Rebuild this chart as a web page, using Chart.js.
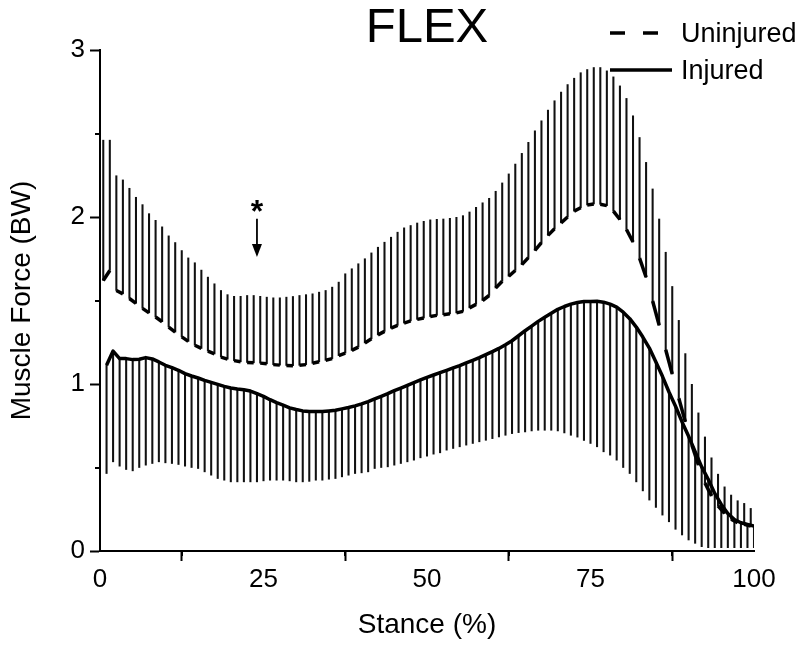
<!DOCTYPE html>
<html>
<head>
<meta charset="utf-8">
<title>FLEX</title>
<script src="https://cdn.jsdelivr.net/npm/chart.js@4.4.1/dist/chart.umd.min.js"></script>
<style>
    html, body { margin: 0; padding: 0; background: #fff; }
    #wrap { width: 800px; height: 650px; }
</style>
</head>
<body>
<div id="wrap"><canvas id="flexChart" width="800" height="650"></canvas></div>
<script>
// stance positions (%) of the two groups, uninjured is sampled half a percent earlier
const stanceUninjured = [
    0.5, 1.5, 2.5, 3.5, 4.5, 5.5, 6.5, 7.5, 8.5, 9.5,
    10.5, 11.5, 12.5, 13.5, 14.5, 15.5, 16.5, 17.5, 18.5, 19.5,
    20.5, 21.5, 22.5, 23.5, 24.5, 25.5, 26.5, 27.5, 28.5, 29.5,
    30.5, 31.5, 32.5, 33.5, 34.5, 35.5, 36.5, 37.5, 38.5, 39.5,
    40.5, 41.5, 42.5, 43.5, 44.5, 45.5, 46.5, 47.5, 48.5, 49.5,
    50.5, 51.5, 52.5, 53.5, 54.5, 55.5, 56.5, 57.5, 58.5, 59.5,
    60.5, 61.5, 62.5, 63.5, 64.5, 65.5, 66.5, 67.5, 68.5, 69.5,
    70.5, 71.5, 72.5, 73.5, 74.5, 75.5, 76.5, 77.5, 78.5, 79.5,
    80.5, 81.5, 82.5, 83.5, 84.5, 85.5, 86.5, 87.5, 88.5, 89.5,
    90.5, 91.5, 92.5, 93.5, 94.5, 95.5, 96.5, 97.5, 98.5, 99.5
];
const stanceInjured = [
    1, 2, 3, 4, 5, 6, 7, 8, 9, 10,
    11, 12, 13, 14, 15, 16, 17, 18, 19, 20,
    21, 22, 23, 24, 25, 26, 27, 28, 29, 30,
    31, 32, 33, 34, 35, 36, 37, 38, 39, 40,
    41, 42, 43, 44, 45, 46, 47, 48, 49, 50,
    51, 52, 53, 54, 55, 56, 57, 58, 59, 60,
    61, 62, 63, 64, 65, 66, 67, 68, 69, 70,
    71, 72, 73, 74, 75, 76, 77, 78, 79, 80,
    81, 82, 83, 84, 85, 86, 87, 88, 89, 90,
    91, 92, 93, 94, 95, 96, 97, 98, 99, 100
];

// muscle force (BW)
const uninjuredMean = [
    1.620, 1.680, 1.560, 1.540, 1.512, 1.483, 1.453, 1.426, 1.401, 1.373,
    1.341, 1.311, 1.282, 1.255, 1.232, 1.213, 1.197, 1.180, 1.161, 1.149,
    1.140, 1.133, 1.129, 1.127, 1.125, 1.121, 1.116, 1.113, 1.111, 1.110,
    1.112, 1.116, 1.124, 1.133, 1.142, 1.152, 1.170, 1.185, 1.201, 1.221,
    1.246, 1.271, 1.294, 1.315, 1.334, 1.351, 1.365, 1.378, 1.387, 1.395,
    1.404, 1.411, 1.415, 1.420, 1.426, 1.435, 1.456, 1.477, 1.500, 1.530,
    1.575, 1.615, 1.645, 1.680, 1.715, 1.757, 1.800, 1.846, 1.890, 1.930,
    1.965, 2.000, 2.035, 2.055, 2.072, 2.078, 2.076, 2.068, 2.035, 1.985,
    1.925, 1.850, 1.754, 1.639, 1.497, 1.352, 1.205, 1.060, 0.915, 0.774,
    0.635, 0.515, 0.407, 0.330, 0.270, 0.225, 0.190, 0.170, 0.160, 0.150
];
// mean + SD
const uninjuredUpper = [
    2.460, 2.460, 2.247, 2.222, 2.172, 2.118, 2.074, 2.020, 1.980, 1.941,
    1.887, 1.847, 1.799, 1.755, 1.726, 1.682, 1.640, 1.600, 1.560, 1.535,
    1.525, 1.525, 1.530, 1.530, 1.525, 1.520, 1.516, 1.516, 1.520, 1.524,
    1.530, 1.535, 1.540, 1.550, 1.560, 1.580, 1.610, 1.660, 1.690, 1.720,
    1.750, 1.785, 1.819, 1.849, 1.879, 1.909, 1.935, 1.949, 1.964, 1.974,
    1.983, 1.986, 1.988, 1.992, 1.998, 2.008, 2.030, 2.058, 2.085, 2.112,
    2.154, 2.204, 2.258, 2.317, 2.381, 2.447, 2.516, 2.576, 2.640, 2.696,
    2.748, 2.793, 2.831, 2.864, 2.883, 2.895, 2.895, 2.875, 2.839, 2.785,
    2.710, 2.606, 2.476, 2.327, 2.168, 1.988, 1.789, 1.584, 1.381, 1.182,
    0.998, 0.827, 0.683, 0.558, 0.460, 0.384, 0.335, 0.301, 0.285, 0.255
];
const injuredMean = [
    1.112, 1.197, 1.152, 1.152, 1.146, 1.148, 1.158, 1.150, 1.132, 1.112,
    1.098, 1.082, 1.062, 1.048, 1.036, 1.022, 1.010, 0.998, 0.986, 0.976,
    0.970, 0.966, 0.958, 0.942, 0.926, 0.906, 0.888, 0.873, 0.857, 0.847,
    0.839, 0.835, 0.835, 0.835, 0.839, 0.843, 0.851, 0.859, 0.869, 0.881,
    0.895, 0.911, 0.926, 0.942, 0.960, 0.976, 0.992, 1.008, 1.024, 1.040,
    1.054, 1.068, 1.082, 1.096, 1.110, 1.126, 1.142, 1.158, 1.176, 1.194,
    1.213, 1.235, 1.259, 1.289, 1.319, 1.347, 1.375, 1.399, 1.423, 1.447,
    1.464, 1.478, 1.488, 1.494, 1.494, 1.495, 1.490, 1.478, 1.460, 1.430,
    1.391, 1.341, 1.281, 1.215, 1.132, 1.046, 0.952, 0.867, 0.773, 0.687,
    0.594, 0.504, 0.429, 0.345, 0.279, 0.225, 0.189, 0.169, 0.159, 0.149
];
// mean - SD
const injuredLower = [
    0.464, 0.534, 0.508, 0.488, 0.480, 0.500, 0.514, 0.524, 0.534, 0.528,
    0.524, 0.518, 0.508, 0.500, 0.494, 0.474, 0.454, 0.434, 0.424, 0.414,
    0.414, 0.414, 0.414, 0.414, 0.420, 0.424, 0.424, 0.424, 0.420, 0.414,
    0.414, 0.417, 0.424, 0.424, 0.430, 0.434, 0.444, 0.454, 0.464, 0.468,
    0.474, 0.494, 0.500, 0.504, 0.514, 0.524, 0.534, 0.544, 0.558, 0.568,
    0.580, 0.588, 0.604, 0.614, 0.624, 0.634, 0.644, 0.654, 0.663, 0.673,
    0.683, 0.693, 0.703, 0.709, 0.713, 0.719, 0.723, 0.723, 0.723, 0.719,
    0.707, 0.693, 0.682, 0.662, 0.644, 0.624, 0.594, 0.574, 0.544, 0.500,
    0.464, 0.414, 0.360, 0.305, 0.261, 0.215, 0.175, 0.130, 0.096, 0.066,
    0.046, 0.026, 0.020, 0.020, 0.020, 0.020, 0.020, 0.020, 0.020, 0.020
];

const minorStanceTicks = [12.5, 37.5, 62.5, 87.5];
const minorForceTicks = [0.5, 1.5, 2.5];

// significance marker (* and arrow) at 24 % stance
const markerStance = 24;
const markerTail = 1.99;
const markerTip = 1.76;
const markerStar = 2.06;

const FONT = '"Liberation Sans", Arial, Helvetica, sans-serif';

function toPoints(xs, ys) {
    return xs.map((x, i) => ({ x: x, y: ys[i] }));
}

function toRanges(xs, from, to) {
    return xs.map((x, i) => ({ x: x, y: [from[i], to[i]] }));
}

// minor ticks, the * marker and the legend
const flexExtras = {
    id: 'flexExtras',
    afterDraw(chart) {
        const { ctx, chartArea } = chart;
        const xs = chart.scales.x;
        const ys = chart.scales.y;
        ctx.save();
        ctx.strokeStyle = '#000';
        ctx.fillStyle = '#000';
        ctx.lineWidth = 2;

        minorStanceTicks.forEach(v => {
            const px = Math.round(xs.getPixelForValue(v));
            ctx.beginPath();
            ctx.moveTo(px, chartArea.bottom);
            ctx.lineTo(px, chartArea.bottom + 5);
            ctx.stroke();
        });
        minorForceTicks.forEach(v => {
            const py = Math.round(ys.getPixelForValue(v));
            ctx.beginPath();
            ctx.moveTo(chartArea.left, py);
            ctx.lineTo(chartArea.left - 5, py);
            ctx.stroke();
        });

        // arrow
        const ax = xs.getPixelForValue(markerStance);
        const tail = ys.getPixelForValue(markerTail);
        const tip = ys.getPixelForValue(markerTip);
        ctx.lineWidth = 1.8;
        ctx.beginPath();
        ctx.moveTo(ax, tail);
        ctx.lineTo(ax, tip - 10);
        ctx.stroke();
        ctx.beginPath();
        ctx.moveTo(ax - 5, tip - 13);
        ctx.lineTo(ax + 5, tip - 13);
        ctx.lineTo(ax, tip);
        ctx.closePath();
        ctx.fill();

        ctx.font = 'bold 32px ' + FONT;
        ctx.textAlign = 'center';
        ctx.textBaseline = 'middle';
        ctx.fillText('*', ax, ys.getPixelForValue(markerStar) + 6);

        // legend
        const sets = chart.data.datasets.filter(d => d.type !== 'bar');
        ctx.font = '27px ' + FONT;
        ctx.textAlign = 'left';
        ctx.lineWidth = 3.5;
        ctx.lineCap = 'butt';
        const rows = [33, 70];
        sets.forEach((d, i) => {
            const y = rows[i];
            ctx.setLineDash(d.label === 'Uninjured' ? [15, 18] : []);
            ctx.beginPath();
            ctx.moveTo(610, y);
            ctx.lineTo(d.label === 'Uninjured' ? 659 : 672, y);
            ctx.stroke();
            ctx.setLineDash([]);
            ctx.fillText(d.label, 681, y + 1.5);
        });
        ctx.restore();
    }
};

const axisTickFont = { family: FONT, size: 26 };
const axisTitleFont = { family: FONT, size: 28 };

new Chart(document.getElementById('flexChart'), {
    type: 'line',
    data: {
        datasets: [
            {
                type: 'bar',
                label: 'Uninjured SD',
                data: toRanges(stanceUninjured, uninjuredMean, uninjuredUpper),
                backgroundColor: '#111',
                borderWidth: 0,
                barThickness: 1.4,
                grouped: false,
                order: 3
            },
            {
                type: 'bar',
                label: 'Injured SD',
                data: toRanges(stanceInjured, injuredMean, injuredLower),
                backgroundColor: '#111',
                borderWidth: 0,
                barThickness: 1.4,
                grouped: false,
                order: 3
            },
            {
                label: 'Uninjured',
                data: toPoints(stanceUninjured, uninjuredMean),
                borderColor: '#000',
                borderWidth: 3.5,
                pointRadius: 0,
                tension: 0,
                borderCapStyle: 'butt',
                segment: {
                    // every other step is left out, which gives the dashes
                    borderColor: c => c.p0DataIndex % 2 === 0 ? '#000' : 'rgba(0,0,0,0)'
                },
                order: 1
            },
            {
                label: 'Injured',
                data: toPoints(stanceInjured, injuredMean),
                borderColor: '#000',
                borderWidth: 3.5,
                borderJoinStyle: 'round',
                pointRadius: 0,
                tension: 0,
                order: 1
            }
        ]
    },
    options: {
        responsive: false,
        animation: false,
        events: [],
        layout: { padding: { left: 0, right: 46, top: 0, bottom: 0 } },
        plugins: {
            legend: { display: false },
            tooltip: { enabled: false },
            title: {
                display: true,
                text: 'FLEX',
                fullSize: false,
                color: '#000',
                font: { family: FONT, size: 49, weight: 'normal', lineHeight: '44px' },
                padding: { top: 6, bottom: 0 }
            }
        },
        scales: {
            x: {
                type: 'linear',
                min: 0,
                max: 100,
                offset: false,
                afterFit: scale => { scale.height = 99; },
                ticks: { stepSize: 25, color: '#000', padding: 3, font: axisTickFont, maxRotation: 0, autoSkip: false },
                grid: { drawOnChartArea: false, drawTicks: true, tickLength: 10, tickWidth: 2, tickColor: '#000' },
                border: { display: true, color: '#000', width: 2 },
                title: { display: true, text: 'Stance (%)', color: '#000', font: axisTitleFont, padding: { top: 0, bottom: 8 } }
            },
            y: {
                type: 'linear',
                min: 0,
                max: 3,
                afterFit: scale => { scale.width = 100; },
                ticks: { stepSize: 1, color: '#000', padding: 5, font: axisTickFont },
                grid: { drawOnChartArea: false, drawTicks: true, tickLength: 10, tickWidth: 2, tickColor: '#000' },
                border: { display: true, color: '#000', width: 2 },
                title: { display: true, text: 'Muscle Force (BW)', color: '#000', font: axisTitleFont, padding: { top: 5, bottom: 0 } }
            }
        }
    },
    plugins: [flexExtras]
});
</script>
</body>
</html>
